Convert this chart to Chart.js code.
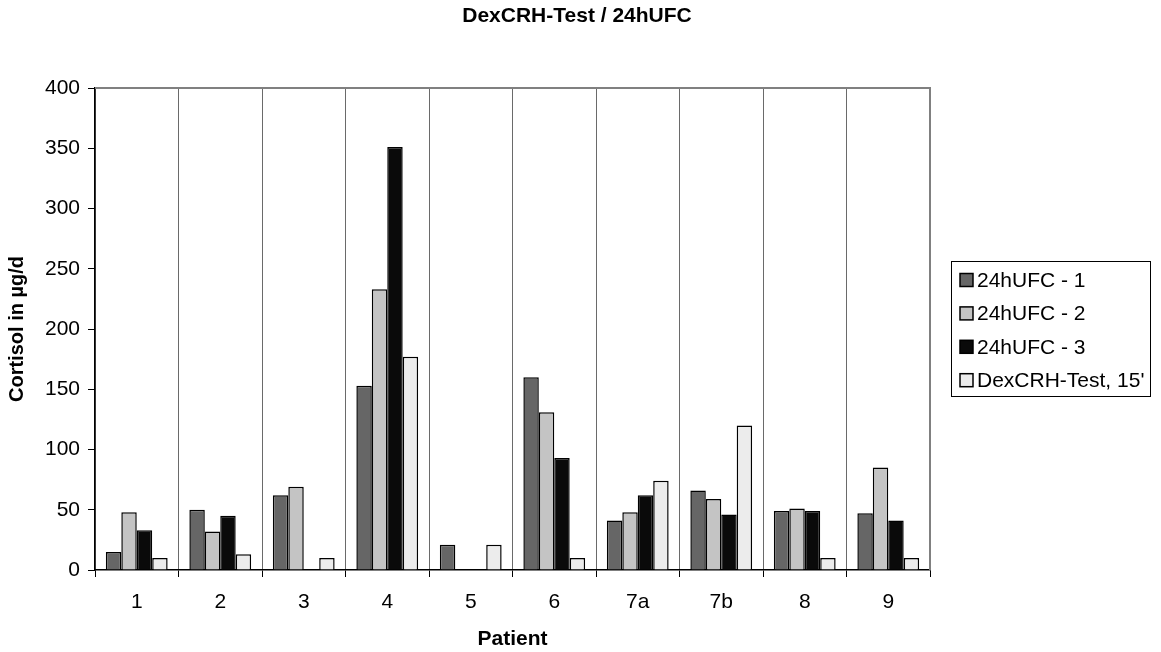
<!DOCTYPE html>
<html>
<head>
<meta charset="utf-8">
<script src="https://cdn.jsdelivr.net/npm/chart.js@4/dist/chart.umd.min.js"></script>
<style>
  html, body { margin: 0; padding: 0; background: #ffffff; }
  #wrap { width: 1161px; height: 652px; position: relative; }
</style>
</head>
<body>
<div id="wrap"><canvas id="c" width="1161" height="652"></canvas></div>
<script>
// Patients on the x axis
const patients = ['1', '2', '3', '4', '5', '6', '7a', '7b', '8', '9'];

// Cortisol values (µg/d); null where no measurement exists
const ufc1   = [15, 50, 62, 153, 21, 160, 41, 66, 49, 47];
const ufc2   = [48, 32, 69, 233, null, 131, 48, 59, 51, 85];
const ufc3   = [33, 45, null, 351, null, 93, 62, 46, 49, 41];
const dexCrh = [10, 13, 10, 177, 21, 10, 74, 120, 10, 10];

const seriesNames = ['24hUFC - 1', '24hUFC - 2', '24hUFC - 3', "DexCRH-Test, 15'"];
const seriesColors = ['#666666', '#c4c4c4', '#0a0a0a', '#ececec'];

const FONT = 'Liberation Sans, Arial, Helvetica, sans-serif';

// Title, plot frame and boxed legend
const decorations = {
  id: 'decorations',
  afterDraw(chart) {
    const ctx = chart.ctx;
    const a = chart.chartArea;
    ctx.save();

    // grey frame on top and right edges of the plot
    ctx.strokeStyle = '#808080';
    ctx.lineWidth = 2;
    ctx.beginPath();
    ctx.moveTo(a.left, a.top);
    ctx.lineTo(a.right, a.top);
    ctx.lineTo(a.right, a.bottom);
    ctx.stroke();

    // chart title
    ctx.fillStyle = '#000';
    ctx.font = 'bold 21px ' + FONT;
    ctx.textAlign = 'center';
    ctx.textBaseline = 'middle';
    ctx.fillText('DexCRH-Test / 24hUFC', 577, 16);

    // legend box
    const lx = 951, ly = 261, lw = 199, lh = 135;
    ctx.fillStyle = '#fff';
    ctx.fillRect(lx, ly, lw, lh);
    ctx.strokeStyle = '#000';
    ctx.lineWidth = 1;
    ctx.strokeRect(lx + 0.5, ly + 0.5, lw, lh);

    ctx.font = '21px ' + FONT;
    ctx.textAlign = 'left';
    ctx.textBaseline = 'middle';
    chart.data.datasets.forEach((ds, i) => {
      const cy = 280 + i * 33.4;
      ctx.fillStyle = ds.backgroundColor;
      ctx.fillRect(960, cy - 6.5, 13, 13);
      ctx.strokeStyle = '#000';
      ctx.lineWidth = 1.5;
      ctx.strokeRect(960, cy - 6.5, 13, 13);
      ctx.fillStyle = '#000';
      ctx.fillText(ds.label, 977, cy + 1);
    });
    ctx.restore();
  }
};

const datasets = [ufc1, ufc2, ufc3, dexCrh].map((vals, i) => ({
  label: seriesNames[i],
  data: vals,
  backgroundColor: seriesColors[i],
  borderColor: '#000000',
  borderWidth: 1.5,
  borderSkipped: 'bottom',
  categoryPercentage: 0.74,
  barPercentage: 1.0
}));

new Chart(document.getElementById('c'), {
  type: 'bar',
  data: { labels: patients, datasets },
  options: {
    responsive: false,
    animation: false,
    devicePixelRatio: 1,
    layout: { padding: { top: 88, right: 231, left: 0, bottom: 0 } },
    plugins: {
      legend: { display: false },
      title: { display: false },
      tooltip: { enabled: false }
    },
    scales: {
      x: {
        offset: true,
        afterFit(scale) { scale.height = 82; },
        grid: {
          display: true,
          offset: true,
          drawOnChartArea: true,
          color: '#6a6a6a',
          lineWidth: 1,
          tickColor: '#000',
          tickLength: 7
        },
        border: { display: true, color: '#000', width: 1.5 },
        ticks: {
          color: '#000',
          font: { family: FONT, size: 21 },
          padding: 13,
          maxRotation: 0
        },
        title: {
          display: true,
          text: 'Patient',
          color: '#000',
          font: { family: FONT, size: 21, weight: 'bold' },
          padding: { top: 0, bottom: 0 }
        }
      },
      y: {
        min: 0,
        max: 400,
        afterFit(scale) { scale.width = 95; },
        ticks: {
          stepSize: 50,
          color: '#000',
          font: { family: FONT, size: 21 },
          padding: 8
        },
        grid: {
          display: true,
          drawOnChartArea: false,
          drawTicks: true,
          tickLength: 7,
          color: '#000',
          tickColor: '#000'
        },
        border: { display: true, color: '#000', width: 1.5 },
        title: {
          display: true,
          text: 'Cortisol in µg/d',
          color: '#000',
          font: { family: FONT, size: 20, weight: 'bold' },
          padding: { top: 5, bottom: 0 }
        }
      }
    }
  },
  plugins: [decorations]
});
</script>
</body>
</html>
